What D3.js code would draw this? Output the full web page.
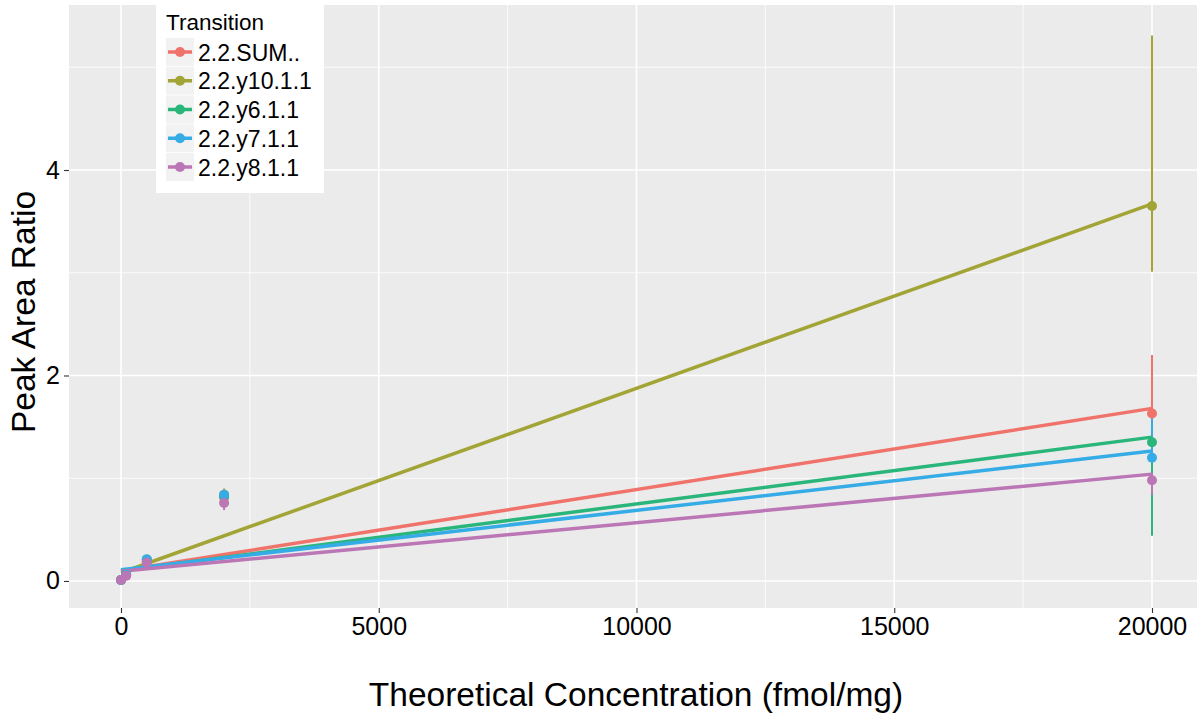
<!DOCTYPE html>
<html>
<head>
<meta charset="utf-8">
<script src="https://cdn.jsdelivr.net/npm/d3@7"></script>
<style>
  html, body { margin: 0; padding: 0; background: #ffffff; }
  svg { display: block; font-family: "Liberation Sans", Arial, Helvetica, sans-serif; }
</style>
</head>
<body>
<svg id="chart" width="1197" height="717"></svg>
<script>
// ---- data ----
const concentrations = [0, 100, 500, 2000, 20000];
const transitions = ["2.2.SUM..", "2.2.y10.1.1", "2.2.y6.1.1", "2.2.y7.1.1", "2.2.y8.1.1"];
const colors = ["#F0736B", "#A2A435", "#2AB67B", "#36ACE6", "#BB76B6"];

const meanSUM  = [0.01, 0.06, 0.19, 0.82, 1.63];
const meanY10  = [0.01, 0.06, 0.19, 0.84, 3.65];
const meanY6   = [0.01, 0.06, 0.21, 0.82, 1.35];
const meanY7   = [0.01, 0.06, 0.21, 0.84, 1.20];
const meanY8   = [0.01, 0.05, 0.18, 0.76, 0.98];

const lowSUM   = [0.005, 0.05, 0.17, 0.77, 1.30];
const highSUM  = [0.015, 0.07, 0.21, 0.87, 2.20];
const lowY10   = [0.005, 0.05, 0.17, 0.79, 3.01];
const highY10  = [0.015, 0.07, 0.21, 0.90, 5.31];
const lowY6    = [0.005, 0.05, 0.19, 0.77, 0.44];
const highY6   = [0.015, 0.07, 0.23, 0.87, 1.55];
const lowY7    = [0.005, 0.05, 0.19, 0.80, 1.15];
const highY7   = [0.015, 0.07, 0.23, 0.88, 1.60];
const lowY8    = [0.005, 0.04, 0.16, 0.69, 0.84];
const highY8   = [0.015, 0.06, 0.20, 0.80, 1.05];

// linear fit: value at x=0 and at x=20000
const fitStart = [0.10, 0.08, 0.10, 0.11, 0.095];
const fitEnd   = [1.68, 3.67, 1.40, 1.265, 1.04];
const fitRange = [0, 20000];

const xTicks = [0, 5000, 10000, 15000, 20000];
const xMinor = [2500, 7500, 12500, 17500];
const yTicks = [0, 2, 4];
const yMinor = [1, 3, 5];

const means = [meanSUM, meanY10, meanY6, meanY7, meanY8];
const lows = [lowSUM, lowY10, lowY6, lowY7, lowY8];
const highs = [highSUM, highY10, highY6, highY7, highY8];

// ---- layout ----
const svg = d3.select("#chart");
const panel = { left: 69, right: 1197, top: 5, bottom: 608 };
const x = d3.scaleLinear().domain([0, 20000]).range([121, 1152]);
const y = d3.scaleLinear().domain([-0.263, 5.606]).range([panel.bottom, panel.top]);

const clipId = "panelclip";
svg.append("defs").append("clipPath").attr("id", clipId)
  .append("rect").attr("x", panel.left).attr("y", panel.top)
  .attr("width", panel.right - panel.left).attr("height", panel.bottom - panel.top);

svg.append("rect").attr("x", panel.left).attr("y", panel.top)
  .attr("width", panel.right - panel.left).attr("height", panel.bottom - panel.top)
  .attr("fill", "#EBEBEB");

const grid = svg.append("g");
grid.selectAll(".xminor").data(xMinor).enter().append("line")
  .attr("x1", d => x(d)).attr("x2", d => x(d)).attr("y1", panel.top).attr("y2", panel.bottom)
  .attr("stroke", "#fff").attr("stroke-width", 0.8);
grid.selectAll(".yminor").data(yMinor).enter().append("line")
  .attr("y1", d => y(d)).attr("y2", d => y(d)).attr("x1", panel.left).attr("x2", panel.right)
  .attr("stroke", "#fff").attr("stroke-width", 0.8);
grid.selectAll(".xmajor").data(xTicks).enter().append("line")
  .attr("x1", d => x(d)).attr("x2", d => x(d)).attr("y1", panel.top).attr("y2", panel.bottom)
  .attr("stroke", "#fff").attr("stroke-width", 1.6);
grid.selectAll(".ymajor").data(yTicks).enter().append("line")
  .attr("y1", d => y(d)).attr("y2", d => y(d)).attr("x1", panel.left).attr("x2", panel.right)
  .attr("stroke", "#fff").attr("stroke-width", 1.6);

// ---- axes ----
const xAxis = svg.append("g").attr("transform", `translate(0,${panel.bottom})`)
  .call(d3.axisBottom(x).tickValues(xTicks).tickFormat(d3.format("d")).tickSize(5).tickPadding(4));
xAxis.select(".domain").remove();
xAxis.selectAll(".tick line").attr("stroke", "#333").attr("stroke-width", 1.1);
xAxis.selectAll(".tick text").attr("font-size", 25).attr("fill", "#000")
  .attr("font-family", "Liberation Sans, Arial, sans-serif");

const yAxis = svg.append("g").attr("transform", `translate(${panel.left},0)`)
  .call(d3.axisLeft(y).tickValues(yTicks).tickFormat(d3.format("d")).tickSize(5).tickPadding(4));
yAxis.select(".domain").remove();
yAxis.selectAll(".tick line").attr("stroke", "#333").attr("stroke-width", 1.1);
yAxis.selectAll(".tick text").attr("font-size", 25).attr("fill", "#000")
  .attr("font-family", "Liberation Sans, Arial, sans-serif");

svg.append("text").attr("x", 636).attr("y", 706)
  .attr("text-anchor", "middle").attr("font-size", 33.5).attr("fill", "#000")
  .text("Theoretical Concentration (fmol/mg)");
svg.append("text").attr("transform", `translate(35,312) rotate(-90)`)
  .attr("text-anchor", "middle").attr("font-size", 33.5).attr("fill", "#000")
  .text("Peak Area Ratio");

// ---- marks ----
const plot = svg.append("g").attr("clip-path", `url(#${clipId})`);

transitions.forEach((t, i) => {
  const rows = concentrations.map((c, j) => ({ c, lo: lows[i][j], hi: highs[i][j] }));
  plot.append("g").selectAll("line").data(rows).enter().append("line")
    .attr("x1", d => x(d.c)).attr("x2", d => x(d.c))
    .attr("y1", d => y(d.lo)).attr("y2", d => y(d.hi))
    .attr("stroke", colors[i]).attr("stroke-width", 2);
});

const lineGen = d3.line().x(d => x(d[0])).y(d => y(d[1]));
transitions.forEach((t, i) => {
  plot.append("path")
    .datum([[fitRange[0], fitStart[i]], [fitRange[1], fitEnd[i]]])
    .attr("d", lineGen).attr("fill", "none")
    .attr("stroke", colors[i]).attr("stroke-width", 3.5);
});

transitions.forEach((t, i) => {
  const rows = concentrations.map((c, j) => ({ c, v: means[i][j] }));
  plot.append("g").selectAll("circle").data(rows).enter().append("circle")
    .attr("cx", d => x(d.c)).attr("cy", d => y(d.v)).attr("r", 5)
    .attr("fill", colors[i]);
});

// ---- legend ----
const legend = svg.append("g");
legend.append("rect").attr("x", 156).attr("y", 0).attr("width", 168).attr("height", 193)
  .attr("fill", "#fff");
legend.append("text").attr("x", 166).attr("y", 30).attr("font-size", 22.5).attr("fill", "#000")
  .text("Transition");
const rowY = d3.scaleLinear().domain([0, 4]).range([52, 167]);
transitions.forEach((t, i) => {
  const cy = rowY(i);
  const g = legend.append("g");
  g.append("rect").attr("x", 166).attr("y", cy - 14).attr("width", 28).attr("height", 28)
    .attr("fill", "#F2F2F2");
  g.append("line").attr("x1", 168).attr("x2", 192).attr("y1", cy).attr("y2", cy)
    .attr("stroke", colors[i]).attr("stroke-width", 3.5);
  g.append("circle").attr("cx", 180).attr("cy", cy).attr("r", 5).attr("fill", colors[i]);
  g.append("text").attr("x", 198).attr("y", cy + 8.5).attr("font-size", 23).attr("fill", "#000")
    .text(t);
});
</script>
</body>
</html>
